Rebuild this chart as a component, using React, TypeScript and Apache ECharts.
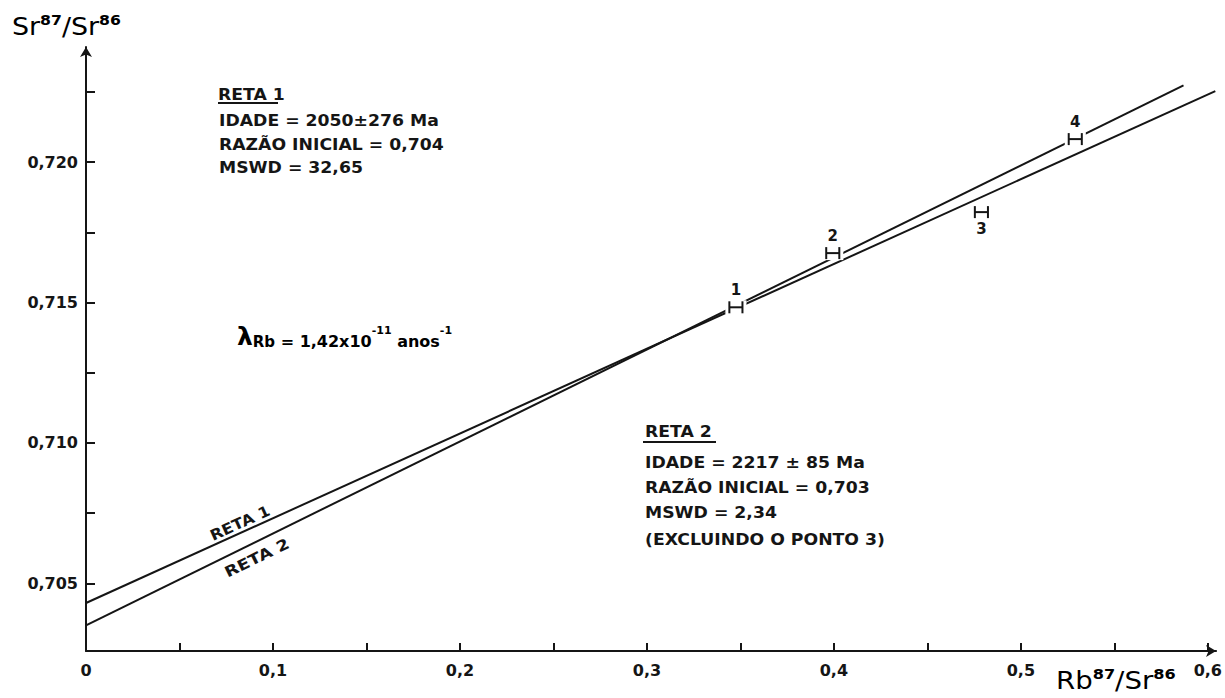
import React, { useEffect, useRef } from 'react';
import * as echarts from 'echarts';

// ---- axis ticks / labels ----
const xTicks = [0, 0.05, 0.1, 0.15, 0.2, 0.25, 0.3, 0.35, 0.4, 0.45, 0.5, 0.55, 0.6];
const xLabels = [0, 0.1, 0.2, 0.3, 0.4, 0.5, 0.6];
const yTicks = [0.705, 0.7075, 0.71, 0.7125, 0.715, 0.7175, 0.72, 0.7225];
const yLabels = [0.705, 0.71, 0.715, 0.72];

// ---- analysed points (Rb87/Sr86, Sr87/Sr86, x error) ----
const pointIds = ['1', '2', '3', '4'];
const pointX = [0.3476, 0.3994, 0.4789, 0.5291];
const pointY = [0.71483, 0.71676, 0.71822, 0.72082];
const pointXErr = [0.0035, 0.0035, 0.0035, 0.0035];
const labelBelow = [false, false, true, false];

// ---- isochron lines (endpoints) ----
const reta1X = [0, 0.604];
const reta1Y = [0.7043, 0.72253];
const reta2X = [0, 0.587];
const reta2Y = [0.7035, 0.72273];

const INK = '#151515';
const FONT = '"DejaVu Sans", sans-serif';

const fmtX = (v: number) => (v === 0 ? '0' : v.toFixed(1).replace('.', ','));
const fmtY = (v: number) => v.toFixed(3).replace('.', ',');

const txt = (text: string, x: number, y: number, extra: any = {}) => ({
  type: 'text',
  x,
  y,
  scaleX: extra.scaleX ?? 1.15,
  rotation: extra.rotation ?? 0,
  silent: true,
  style: {
    text,
    fill: INK,
    font: `bold ${extra.size ?? 15}px ${FONT}`,
    align: extra.align ?? 'left',
    verticalAlign: 'middle',
  },
});

const uline = (x1: number, x2: number, y: number) => ({
  type: 'line',
  silent: true,
  shape: { x1, y1: y, x2, y2: y },
  style: { stroke: INK, lineWidth: 2 },
});

export default function App() {
  const ref = useRef<HTMLDivElement>(null);

  useEffect(() => {
    if (!ref.current) return;
    const chart = echarts.init(ref.current, undefined, { renderer: 'svg' });

    const nameRich = {
      a: { fontSize: 24, fontFamily: FONT, color: INK, lineHeight: 26, verticalAlign: 'bottom' },
      s: { fontSize: 14, fontFamily: FONT, fontWeight: 'bold', color: INK, lineHeight: 14, verticalAlign: 'top' },
    };

    const option: any = {
      animation: false,
      backgroundColor: '#ffffff',
      grid: { left: 86, right: 7, top: 47, bottom: 47, containLabel: false },
      xAxis: {
        type: 'value',
        min: 0,
        max: 0.6044,
        axisLine: {
          show: true,
          onZero: false,
          symbol: ['none', 'arrow'],
          symbolSize: [9, 10],
          lineStyle: { color: INK, width: 2 },
        },
        axisTick: { show: true, inside: true, length: 8, customValues: xTicks, lineStyle: { color: INK, width: 2 } },
        axisLabel: {
          customValues: xLabels,
          formatter: fmtX,
          margin: 11,
          color: INK,
          fontFamily: FONT,
          fontWeight: 'bold',
          fontSize: 16,
        },
        splitLine: { show: false },
      },
      yAxis: {
        type: 'value',
        min: 0.70259,
        max: 0.7241,
        axisLine: {
          show: true,
          onZero: false,
          symbol: ['none', 'arrow'],
          symbolSize: [9, 10],
          lineStyle: { color: INK, width: 2 },
        },
        axisTick: { show: true, inside: true, length: 9, customValues: yTicks, lineStyle: { color: INK, width: 2 } },
        axisLabel: {
          customValues: yLabels,
          formatter: fmtY,
          margin: 8,
          color: INK,
          fontFamily: FONT,
          fontWeight: 'bold',
          fontSize: 16,
        },
        splitLine: { show: false },
      },
      series: [
        {
          name: 'Reta 1',
          type: 'line',
          data: reta1X.map((x, i) => [x, reta1Y[i]]),
          symbol: 'none',
          silent: true,
          lineStyle: { color: INK, width: 2 },
          z: 2,
        },
        {
          name: 'Reta 2',
          type: 'line',
          data: reta2X.map((x, i) => [x, reta2Y[i]]),
          symbol: 'none',
          silent: true,
          lineStyle: { color: INK, width: 2 },
          z: 2,
        },
        {
          name: 'Pontos',
          type: 'custom',
          z: 5,
          silent: true,
          data: pointX.map((x, i) => [x, pointY[i], pointXErr[i]]),
          renderItem: (params: any, api: any) => {
            const i = params.dataIndex;
            const x = api.value(0);
            const y = api.value(1);
            const e = api.value(2);
            const c = api.coord([x, y]);
            const l = api.coord([x - e, y]);
            const r = api.coord([x + e, y]);
            const h = 6;
            const ls = { stroke: INK, lineWidth: 2 };
            return {
              type: 'group',
              children: [
                { type: 'rect', shape: { x: l[0] - 4, y: c[1] - 7, width: r[0] - l[0] + 8, height: 14 }, style: { fill: '#ffffff' } },
                { type: 'line', shape: { x1: l[0], y1: c[1], x2: r[0], y2: c[1] }, style: ls },
                { type: 'line', shape: { x1: l[0], y1: c[1] - h, x2: l[0], y2: c[1] + h }, style: ls },
                { type: 'line', shape: { x1: r[0], y1: c[1] - h, x2: r[0], y2: c[1] + h }, style: ls },
                {
                  type: 'text',
                  x: c[0],
                  y: labelBelow[i] ? c[1] + 17 : c[1] - 17,
                  style: {
                    text: pointIds[i],
                    fill: INK,
                    font: `bold 15px ${FONT}`,
                    align: 'center',
                    verticalAlign: 'middle',
                  },
                },
              ],
            };
          },
        },
      ],
      graphic: [
        // axis names
        {
          type: 'text',
          x: 12,
          y: 13,
          scaleX: 1.12,
          silent: true,
          style: {
            text: '{a|Sr}{s|87}{a|/Sr}{s|86}',
            verticalAlign: 'top',
            rich: nameRich,
          },
        },
        {
          type: 'text',
          x: 1056,
          y: 667,
          scaleX: 1.15,
          silent: true,
          style: {
            text: '{a|Rb}{s|87}{a|/Sr}{s|86}',
            verticalAlign: 'top',
            rich: nameRich,
          },
        },
        // RETA 1 block
        txt('RETA 1', 218, 95),
        uline(218, 278, 103),
        txt('IDADE = 2050±276 Ma', 219, 121),
        txt('RAZÃO INICIAL = 0,704', 219, 145),
        txt('MSWD = 32,65', 219, 168),
        // RETA 2 block
        txt('RETA 2', 645, 432),
        uline(643, 716, 442),
        txt('IDADE = 2217 ± 85 Ma', 645, 463),
        txt('RAZÃO INICIAL = 0,703', 645, 488),
        txt('MSWD = 2,34', 645, 513),
        txt('(EXCLUINDO O PONTO 3)', 645, 540),
        // decay constant
        {
          type: 'text',
          x: 237,
          y: 325,
          silent: true,
          style: {
            text: '{l|λ}{sub|Rb}{m| = 1,42x10}{sup|-11}{m| anos}{sup|-1}',
            verticalAlign: 'top',
            rich: {
              l: { fontSize: 25, fontFamily: FONT, fontWeight: 'bold', color: INK, lineHeight: 24, verticalAlign: 'bottom' },
              sub: { fontSize: 15, fontFamily: FONT, fontWeight: 'bold', color: INK, lineHeight: 15, verticalAlign: 'bottom' },
              m: { fontSize: 16, fontFamily: FONT, fontWeight: 'bold', color: INK, lineHeight: 16, verticalAlign: 'bottom' },
              sup: { fontSize: 11, fontFamily: FONT, fontWeight: 'bold', color: INK, lineHeight: 11, verticalAlign: 'top' },
            },
          },
        },
        // line labels along the lines
        txt('RETA 1', 240, 523, { align: 'center', rotation: (24.3 * Math.PI) / 180, scaleX: 1.1 }),
        txt('RETA 2', 257, 558, { align: 'center', rotation: (26.1 * Math.PI) / 180, scaleX: 1.2 }),
      ],
    };

    chart.setOption(option);
    return () => chart.dispose();
  }, []);

  return (
    <div
      ref={ref}
      style={{ position: 'fixed', left: 0, top: 0, width: 1225, height: 698, background: '#fff' }}
    />
  );
}
